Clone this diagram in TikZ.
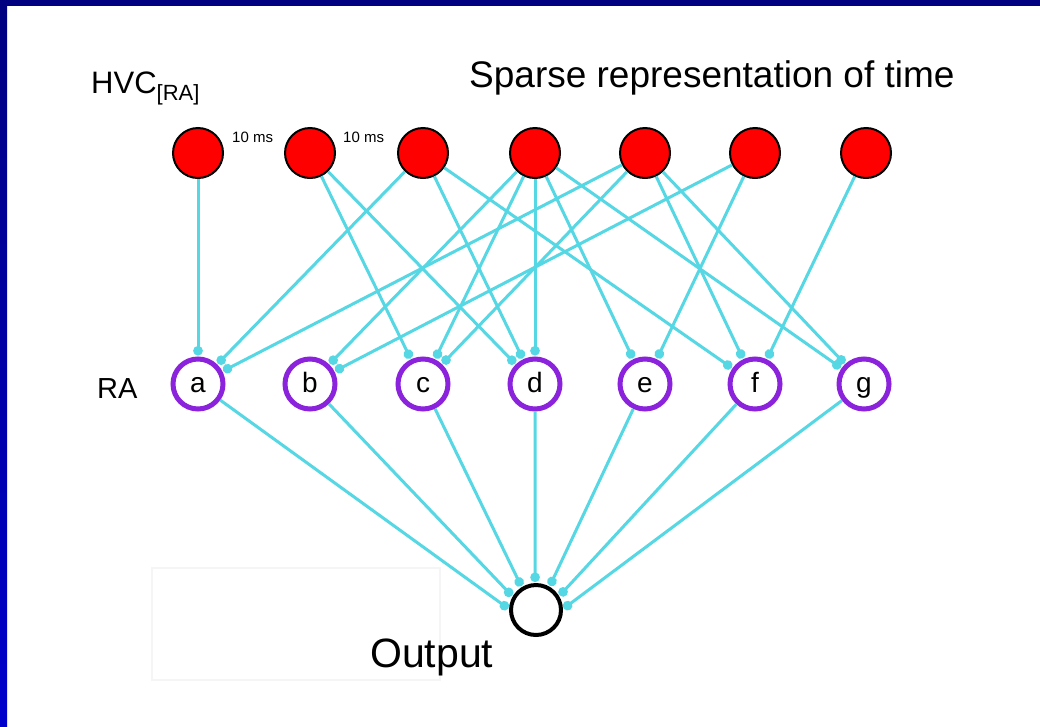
\documentclass[tikz,border=0pt]{standalone}
\usepackage{fontspec}
\setmainfont{Liberation Sans}
\usetikzlibrary{arrows.meta}
\definecolor{wire}{RGB}{85,215,228}
\definecolor{ranode}{RGB}{140,35,220}
\definecolor{navyedge}{RGB}{0,0,128}
\definecolor{blueedge}{RGB}{0,0,204}
\newcommand\setpx[1]{\fontsize{#1}{#1}\selectfont}

\begin{document}
\begin{tikzpicture}[x=1pt,y=-1pt,
  hvcnode/.style={circle, draw=black, line width=2pt, fill=red,
    minimum size=50pt, inner sep=0pt},
  ranode/.style={circle, draw=ranode, line width=5pt, fill=white,
    minimum size=50pt, inner sep=0pt, font=\setpx{28},
    text height=16pt, text depth=0pt},
  outnode/.style={circle, draw=black, line width=4pt, fill=white,
    minimum size=50pt, inner sep=0pt},
  conn/.style={draw=wire, line width=3pt,
    -{Circle[length=9.5pt,width=9.5pt]}, shorten >=1pt},
  label/.style={anchor=base west, inner sep=0pt}]

% page and frame
\useasboundingbox (0,0) rectangle (1040,726);
\fill[white] (0,0) rectangle (1040,726);
\shade[top color=navyedge, bottom color=blueedge] (0,0) rectangle (7,726);
\fill[navyedge] (0,0) rectangle (1040,6);
\draw[gray!8, line width=1.5pt] (152,568) rectangle (440,680);

% titles and row labels
\node[label, font=\setpx{37}] (title) at (469,87) {Sparse representation of time};
\node[label, font=\setpx{31}] (hvclab) at (91,93)
  {HVC\raisebox{-7pt}{\setpx{22}[RA]}};
\node[label, font=\setpx{29}] (ralab) at (97,398) {RA};
\node[label, font=\setpx{41}] (outlab) at (370,667) {Output};

% HVC(RA) neurons
\foreach \n/\x in {1/198,2/310,3/423,4/535,5/645,6/755,7/866}
  \node[hvcnode] (h\n) at (\x,153) {};
\node[label, font=\setpx{15}] (ms1) at (232,142) {10 ms};
\node[label, font=\setpx{15}] (ms2) at (343,142) {10 ms};

% RA neurons
\foreach \n/\x in {a/198,b/310,c/423,d/535,e/645,f/755,g/864}
  \node[ranode] (\n) at (\x,384) {\n};

% output neuron
\node[outnode] (out) at (536,610) {};

% HVC -> RA projections
\draw[conn] (h1) -- (a);
\draw[conn] (h2) -- (c);
\draw[conn] (h2) -- (d);
\draw[conn] (h3) -- (a);
\draw[conn] (h3) -- (d);
\draw[conn] (h3) -- (f);
\draw[conn] (h4) -- (b);
\draw[conn] (h4) -- (c);
\draw[conn] (h4) -- (d);
\draw[conn] (h4) -- (e);
\draw[conn] (h4) -- (g);
\draw[conn] (h5) -- (a);
\draw[conn] (h5) -- (c);
\draw[conn] (h5) -- (f);
\draw[conn] (h5) -- (g);
\draw[conn] (h6) -- (b);
\draw[conn] (h6) -- (e);
\draw[conn] (h7) -- (f);

% RA -> output
\draw[conn] (a) -- (out.178);
\draw[conn] (b) -- (out.150);
\draw[conn] (c) -- (out.122);
\draw[conn] (d) -- (out.92);
\draw[conn] (e) -- (out.60);
\draw[conn] (f) -- (out.31);
\draw[conn] (g) -- (out.2);
\end{tikzpicture}
\end{document}
